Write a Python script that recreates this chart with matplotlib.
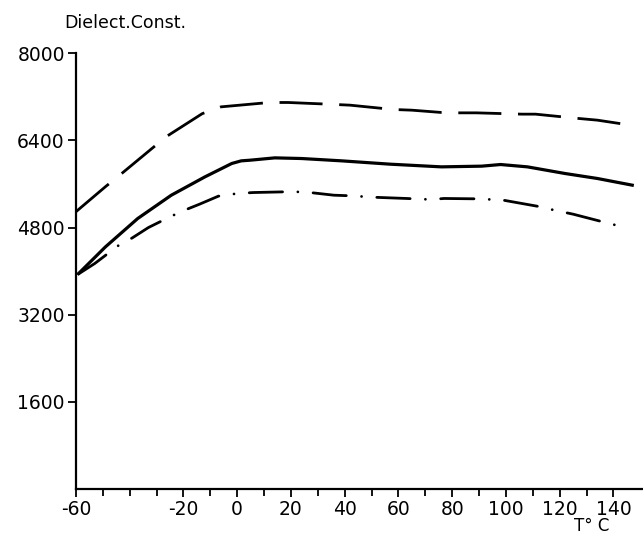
import numpy as np
import matplotlib.pyplot as plt

# values
temp_upper = [-60, -49, -43, -31, -26, -13, -6, 5, 12, 19, 34, 42, 58, 65, 76,
              82, 89, 106, 111, 127, 134, 144]
eps_upper = [5090, 5550, 5790, 6280, 6480, 6890, 7015, 7064, 7095, 7095, 7064, 7046,
             6967, 6954, 6912, 6905, 6905, 6881, 6881, 6802, 6771, 6697]

temp_mid = [-59, -49, -37, -24.5, -12, -2, 1.5, 5, 14, 24, 39, 57, 76, 91, 98,
            108, 122, 134, 147]
eps_mid = [3957, 4446, 4966, 5394, 5730, 5976, 6024, 6037, 6079, 6067, 6024, 5963,
           5914, 5927, 5957, 5914, 5792, 5701, 5578]

temp_lower = [-59, -53, -44, -39, -33, -24.5, -18.6, -14, -7, -2, 1.5, 6, 17, 25,
              36, 43, 50, 63, 72, 77, 90, 99, 113, 118, 125, 137, 142]
eps_lower = [3950, 4140, 4477, 4611, 4801, 5009, 5138, 5229, 5376, 5413, 5430, 5443,
             5455, 5455, 5394, 5382, 5358, 5334, 5315, 5334, 5327, 5303, 5180, 5119,
             5046, 4893, 4831]

x_ticks = [-60, -20, 0, 20, 40, 60, 80, 100, 120, 140]
y_ticks = [1600, 3200, 4800, 6400, 8000]

plt.rcParams['font.family'] = ['DejaVu Sans']
plt.rcParams['axes.unicode_minus'] = False

fig = plt.figure(figsize=(6.43, 5.37), dpi=100)
ax = fig.add_axes([0.118, 0.089, 0.882, 0.812])

lw = 2.0
ax.plot(temp_upper, eps_upper, color='black', lw=lw, dashes=(15.5, 6))
ax.plot(temp_mid, eps_mid, color='black', lw=lw + 0.3)
ax.plot(temp_lower, eps_lower, color='black', lw=lw, dashes=(12, 5.5, 0.01, 5.5),
        dash_capstyle='round')

ax.set_xlim(-60, 151)
ax.set_ylim(0, 8000)
ax.set_xticks(x_ticks)
ax.set_xticks(np.arange(-50, 150, 10), minor=True)
ax.set_yticks(y_ticks)
ax.set_xticklabels([str(t) for t in x_ticks])
ax.set_yticklabels([str(t) for t in y_ticks])

for s in ['top', 'right']:
    ax.spines[s].set_visible(False)
for s in ['left', 'bottom']:
    ax.spines[s].set_linewidth(1.6)

ax.tick_params(axis='both', which='major', labelsize=13.5, length=6, width=1.3,
               direction='out', pad=2)
ax.tick_params(axis='x', which='minor', length=5, width=1.3, direction='out')

fig.text(0.195, 0.957, 'Dielect.Const.', fontsize=12.5, ha='center', va='center')
fig.text(0.92, 0.004, 'T° C', fontsize=12, ha='center', va='bottom')

fig.savefig('out.png', dpi=100)
